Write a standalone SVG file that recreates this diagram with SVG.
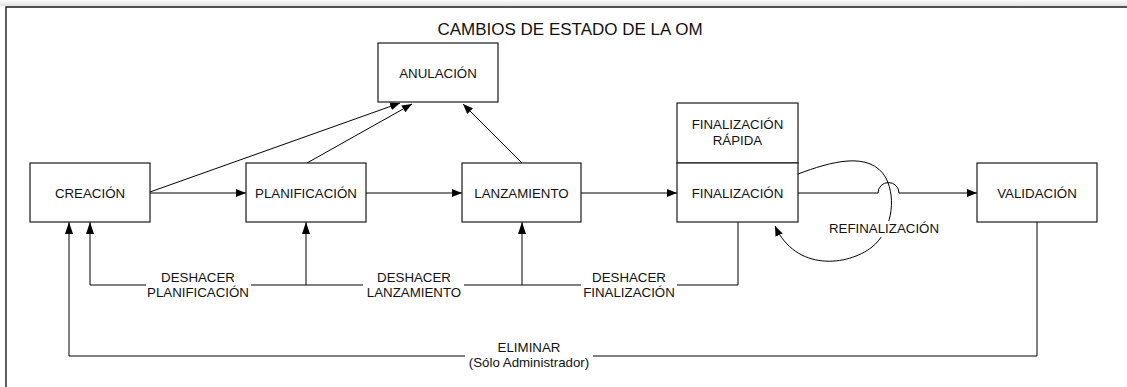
<svg xmlns="http://www.w3.org/2000/svg" width="1127" height="387" viewBox="0 0 1127 387">
<defs>
<linearGradient id="shade" x1="0" y1="0" x2="0" y2="1">
<stop offset="0" stop-color="#fbfbfb"/>
<stop offset="1" stop-color="#e2e2e2"/>
</linearGradient>
<marker id="ah" markerUnits="userSpaceOnUse" markerWidth="10" markerHeight="8" refX="10" refY="4" orient="auto">
<path d="M0,0 L10,4 L0,8 z" fill="#000"/>
</marker>
<marker id="av" markerUnits="userSpaceOnUse" markerWidth="12" markerHeight="8" refX="12" refY="4" orient="auto">
<path d="M0,0 L12,4 L0,8 z" fill="#000"/>
</marker>
</defs>
<style>
.box{fill:#fff;stroke:#1a1a1a;stroke-width:1.2}
.ln{fill:none;stroke:#000;stroke-width:1}
.t{font-family:"Liberation Sans",Arial,sans-serif;font-size:13.3px;fill:#111;text-anchor:middle}
.bg{fill:#fff}
</style>
<rect x="0" y="0" width="1127" height="6" fill="url(#shade)"/>
<rect x="0" y="387" width="1" height="0" fill="none"/>
<path d="M6,387 V7 H1127" fill="none" stroke="#1a1a1a" stroke-width="1.4"/>
<text x="570" y="35" class="t" style="font-size:17px">CAMBIOS DE ESTADO DE LA OM</text>

<g id="connectors">
<path class="ln" d="M150,193 H246" marker-end="url(#ah)"/>
<path class="ln" d="M366,193 H462" marker-end="url(#ah)"/>
<path class="ln" d="M581,193 H677" marker-end="url(#ah)"/>
<path class="ln" d="M798,193 H878 A10.5,10.5 0 0 1 899,193 H977" marker-end="url(#ah)"/>
<path class="ln" d="M150,192 L400,103" marker-end="url(#ah)"/>
<path class="ln" d="M307,163 L412,104" marker-end="url(#ah)"/>
<path class="ln" d="M522,163 L463,104" marker-end="url(#ah)"/>
<path class="ln" d="M798,174 C830,162 870,150 886,178 C897,200 891,232 872,247 C848,266 796,272 775,226" marker-end="url(#ah)"/>
<path class="ln" d="M738,222 V285 H90 V222" marker-end="url(#av)"/>
<path class="ln" d="M522,285 V222" marker-end="url(#av)"/>
<path class="ln" d="M306,285 V222" marker-end="url(#av)"/>
<path class="ln" d="M1037,222 V356 H69 V222" marker-end="url(#av)"/>
<rect class="bg" x="826" y="221" width="116" height="16"/>
<text x="884" y="233" class="t">REFINALIZACIÓN</text>
<rect class="bg" x="146" y="270" width="105" height="29"/>
<text x="198" y="282" class="t">DESHACER</text>
<text x="198" y="297" class="t">PLANIFICACIÓN</text>
<rect class="bg" x="363" y="270" width="101" height="29"/>
<text x="414" y="282" class="t">DESHACER</text>
<text x="414" y="297" class="t">LANZAMIENTO</text>
<rect class="bg" x="581" y="270" width="96" height="29"/>
<text x="629" y="282" class="t">DESHACER</text>
<text x="629" y="297" class="t">FINALIZACIÓN</text>
<rect class="bg" x="465" y="341" width="128" height="29"/>
<text x="529" y="352" class="t">ELIMINAR</text>
<text x="529" y="367" class="t">(Sólo Administrador)</text>
</g>

<g id="anulacion">
<rect class="box" x="378" y="43" width="120" height="59"/>
<text x="438" y="77.5" class="t">ANULACIÓN</text>
</g>
<g id="creacion">
<rect class="box" x="30" y="163" width="120" height="59"/>
<text x="90" y="197.5" class="t">CREACIÓN</text>
</g>
<g id="planificacion">
<rect class="box" x="246" y="163" width="120" height="59"/>
<text x="306" y="197.5" class="t">PLANIFICACIÓN</text>
</g>
<g id="lanzamiento">
<rect class="box" x="462" y="163" width="119" height="59"/>
<text x="521.5" y="197.5" class="t">LANZAMIENTO</text>
</g>
<g id="finalizacion-rapida">
<rect class="box" x="677" y="103" width="121" height="60"/>
<text x="737.5" y="129" class="t">FINALIZACIÓN</text>
<text x="737.5" y="145" class="t">RÁPIDA</text>
</g>
<g id="finalizacion">
<rect class="box" x="677" y="163" width="121" height="59"/>
<text x="737.5" y="197.5" class="t">FINALIZACIÓN</text>
</g>
<g id="validacion">
<rect class="box" x="977" y="163" width="120" height="59"/>
<text x="1037" y="197.5" class="t">VALIDACIÓN</text>
</g>
</svg>
